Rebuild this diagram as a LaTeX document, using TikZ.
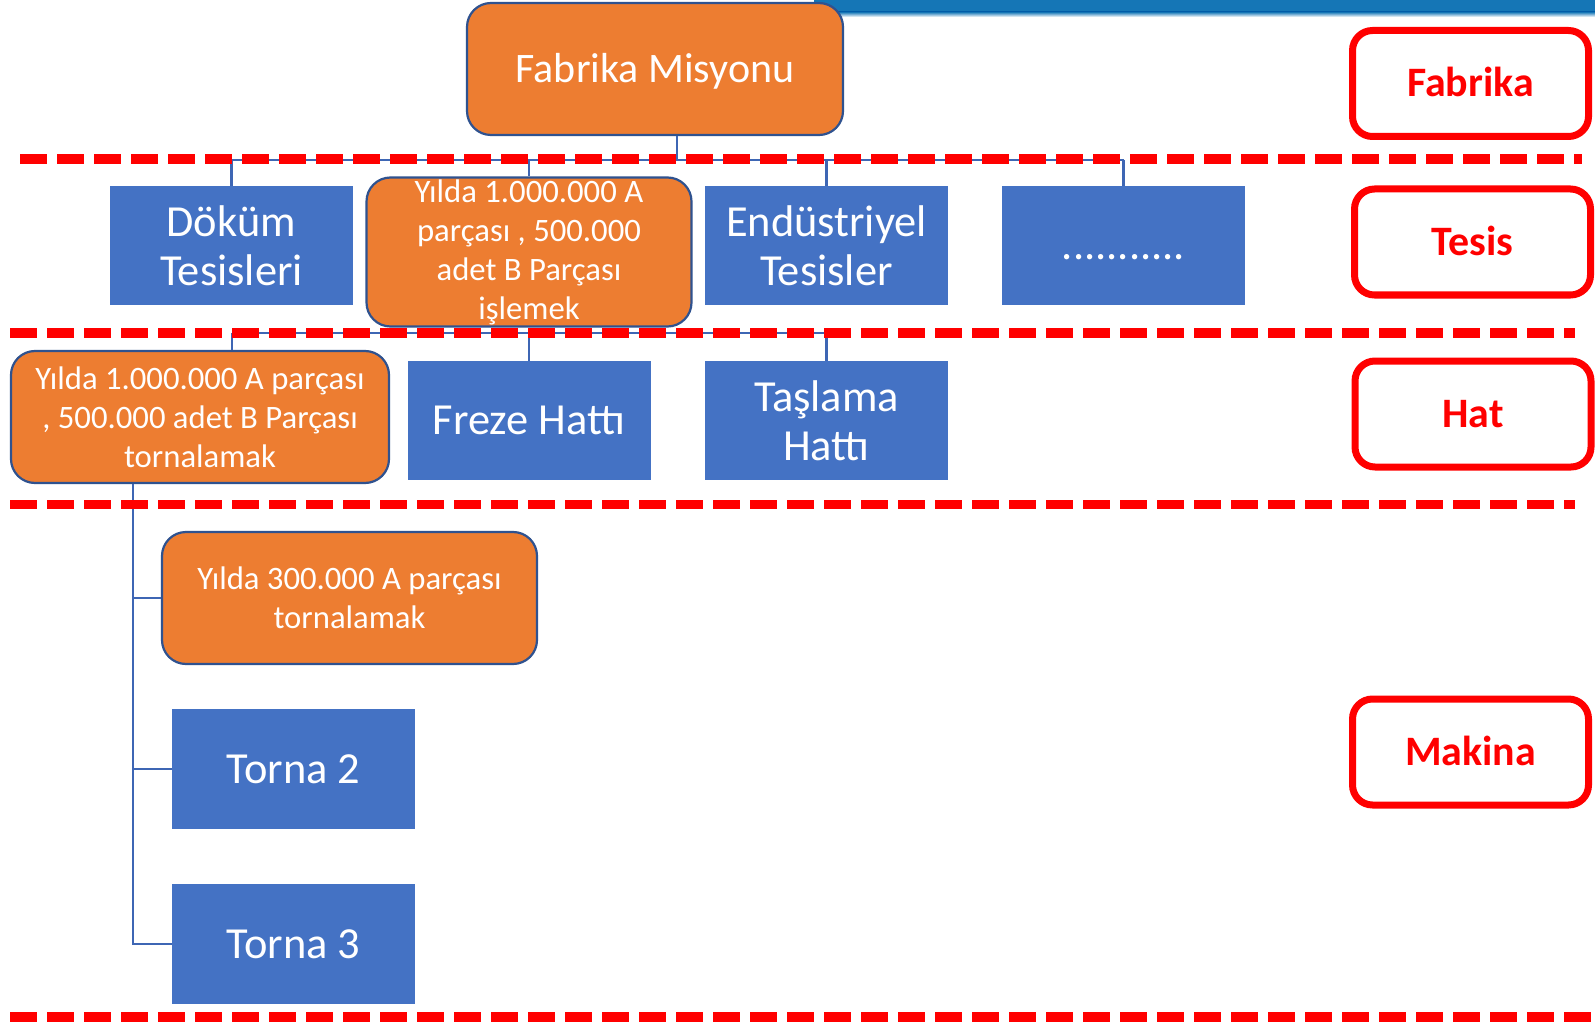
\documentclass[tikz,border=0pt]{standalone}
\usepackage{fontspec}
\setmainfont{Carlito}
\usepackage{xcolor}
\definecolor{fabblue}{RGB}{68,114,196}
\definecolor{faborange}{RGB}{237,125,49}
\definecolor{fabedge}{RGB}{47,82,143}
\definecolor{fablink}{RGB}{62,102,180}
\definecolor{fabbar}{RGB}{21,118,182}
\usetikzlibrary{calc}
\tikzset{
  unit/.style={fill=fabblue,text=white,minimum width=243,minimum height=119,inner sep=0pt,align=center,font=\fontsize{44.4}{48.5}\selectfont},
  goal/.style={draw=fabedge,line width=2.2pt,fill=faborange,rounded corners=24pt,text=white,inner sep=0pt,align=center,font=\fontsize{32.7}{39}\selectfont},
  tier/.style={draw=red,line width=7pt,fill=white,rounded corners=20pt,text=red,minimum width=236,minimum height=106,inner sep=0pt,text height=27pt,text depth=0pt,font=\bfseries\fontsize{41.9}{48}\selectfont},
  oneline/.style={text height=28.5pt,text depth=0pt},
  link/.style={draw=fablink,line width=2.2pt},
  sepline/.style={draw=red,line width=9.5pt,dash pattern=on 27pt off 10pt},
}

\begin{document}
\begin{tikzpicture}[x=1pt,y=-1pt]
    \useasboundingbox (0,0) rectangle (1595,1024);
    \fill[white] (0,0) rectangle (1595,1024);
    \fill[fabbar] (814,0) rectangle (1595,12);
    \shade[top color=fabbar,bottom color=white] (814,12) rectangle (1595,17);
    % levels
    \node[goal,oneline,text height=27pt,minimum width=376,minimum height=132,font=\fontsize{42}{48.5}\selectfont] (misyon) at (655,69) {Fabrika Misyonu};
    \node[unit] (dokum) at (231.5,245.5) {Döküm\\Tesisleri};
    \node[goal,minimum width=325,minimum height=149] (tesisA) at (529,252) {Yılda 1.000.000 A\\parçası , 500.000\\adet B Parçası\\işlemek};
    \node[unit] (endus) at (826.5,245.5) {Endüstriyel\\Tesisler};
    \node[unit,oneline] (dots) at (1123.5,245.5) {...........};
    \node[goal,minimum width=378,minimum height=132] (hatA) at (200,417) {Yılda 1.000.000 A parçası\\, 500.000 adet B Parçası\\tornalamak};
    \node[unit,oneline] (freze) at (529,420.5) {Freze Hattı};
    \node[unit] (taslama) at (826.5,420.5) {Taşlama\\Hattı};
    \node[goal,minimum width=375,minimum height=132] (makA) at (349.5,598) {Yılda 300.000 A parçası\\tornalamak};
    \node[unit,oneline,minimum height=120] (torna2) at (293.5,769) {Torna 2};
    \node[unit,oneline,minimum height=120] (torna3) at (293.5,944) {Torna 3};
    \node[tier] (lfab) at (1470.5,83.5) {Fabrika};
    \node[tier] (ltes) at (1472.5,242) {Tesis};
    \node[tier] (lhat) at (1473,414) {Hat};
    \node[tier] (lmak) at (1470.5,752) {Makina};
    % connectors
    \coordinate (tbus) at (0,160);
    \coordinate (hbus) at (0,333);
    \coordinate (mtap) at ($(misyon.south)+(22,0)$);
    \coordinate (htap) at ($(hatA.north)+(32,0)$);
    \coordinate (trunk) at ($(hatA.south)+(-67,0)$);
    \draw[link] (mtap) -- (mtap |- tbus);
    \draw[link] (dokum.north |- tbus) -- (dots.north |- tbus);
    \foreach \n in {dokum,tesisA,endus,dots}{\draw[link] (\n.north |- tbus) -- (\n.north);}
    \draw[link] (tesisA.south) -- (tesisA.south |- hbus);
    \draw[link] (htap |- hbus) -- (taslama.north |- hbus);
    \draw[link] (htap |- hbus) -- (htap);
    \foreach \n in {freze,taslama}{\draw[link] (\n.north |- hbus) -- (\n.north);}
    \draw[link] (trunk) |- (torna3.west);
    \draw[link] (trunk |- makA.west) -- (makA.west);
    \draw[link] (trunk |- torna2.west) -- (torna2.west);
    % level borders
    \draw[sepline] (20,159) -- (1582,159);
    \draw[sepline] (10,333) -- (1575,333);
    \draw[sepline] (10,504.5) -- (1575,504.5);
    \draw[sepline] (10,1017) -- (1595,1017);
  \end{tikzpicture}
\end{document}
